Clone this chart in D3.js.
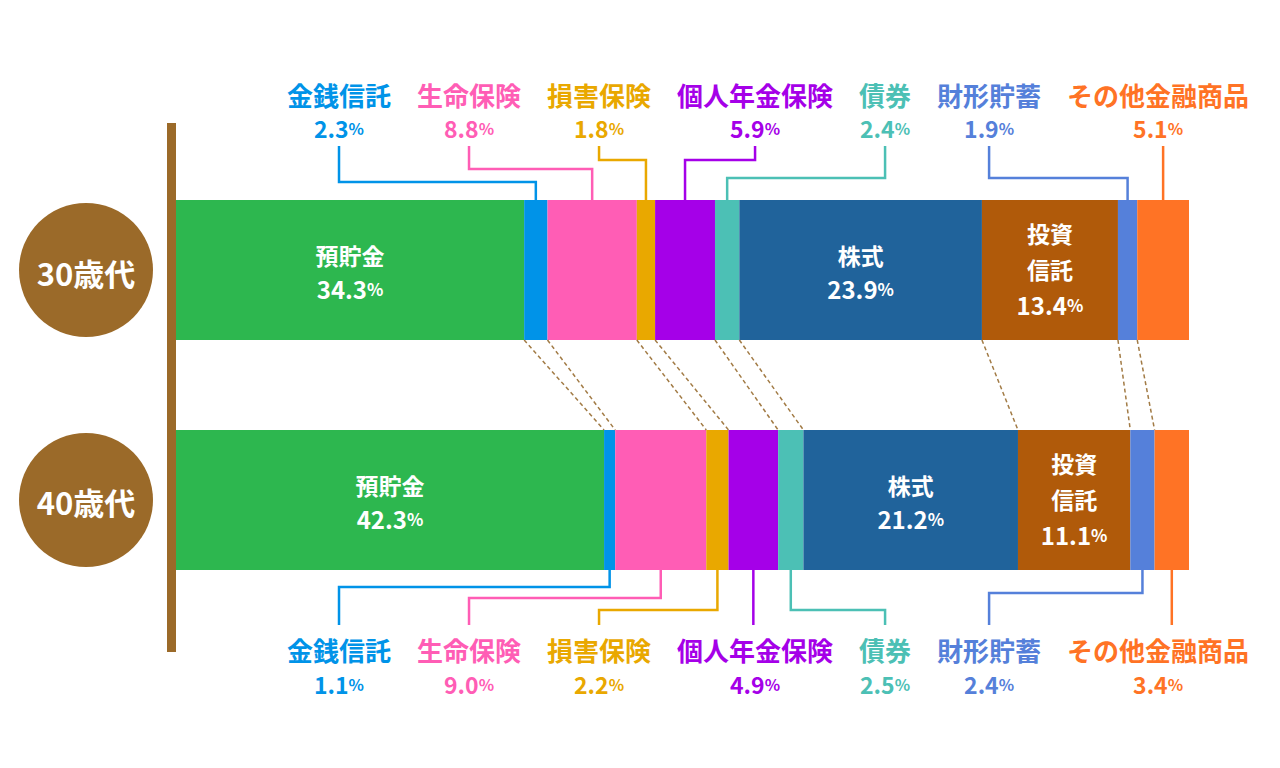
<!DOCTYPE html>
<html>
<head>
<meta charset="utf-8">
<script src="https://cdn.jsdelivr.net/npm/d3@7"></script>
<style>
body { margin: 0; background: #fff; }
text { font-family: "Noto Sans CJK JP", "Noto Sans", sans-serif; font-weight: 700; }
</style>
</head>
<body>
<div id="canvas"></div>
<script>
var ages = ["30歳代", "40歳代"];
var categories = ["預貯金", "金銭信託", "生命保険", "損害保険", "個人年金保険", "債券", "株式", "投資信託", "財形貯蓄", "その他金融商品"];
var values30 = [34.3, 2.3, 8.8, 1.8, 5.9, 2.4, 23.9, 13.4, 1.9, 5.1];
var values40 = [42.3, 1.1, 9.0, 2.2, 4.9, 2.5, 21.2, 11.1, 2.4, 3.4];
var colors = ["#2db74f", "#0093e8", "#ff5db5", "#e9a800", "#a500e8", "#4cc0b5", "#20639b", "#b05a0a", "#5580da", "#ff7325"];

// names written inside the bar (with line breaks), the rest get callouts
var insideNames = { "預貯金": ["預貯金"], "株式": ["株式"], "投資信託": ["投資", "信託"] };

// elbow heights of the callout lines (layout only)
var topElbow = { "金銭信託": 182, "生命保険": 169, "損害保険": 160, "個人年金保険": 160, "債券": 178, "財形貯蓄": 178, "その他金融商品": 178 };
var bottomElbow = { "金銭信託": 587, "生命保険": 598, "損害保険": 610, "個人年金保険": 610, "債券": 610, "財形貯蓄": 593, "その他金融商品": 610 };

var brown = "#9b6a29";
var fmt = d3.format(".1f");

const svg = d3.select("#canvas")
  .append("svg")
    .attr("width", 1280)
    .attr("height", 768);

var rows = ages.map(function(a, i) {
  var vals = [values30, values40][i];
  var o = { age: a };
  categories.forEach(function(c, j) { o[c] = vals[j]; });
  return o;
});
var series = d3.stack().keys(categories)(rows);
var totals = rows.map(function(r) { return d3.sum(categories, function(c) { return r[c]; }); });
var xs = totals.map(function(t) { return d3.scaleLinear().domain([0, t]).range([176, 1189]); });
var y = d3.scaleBand().domain(ages).range([200, 570]).paddingInner(0.3913);
var bw = y.bandwidth();

// vertical brown rule
svg.append("rect")
  .attr("x", 167).attr("y", 123)
  .attr("width", 9).attr("height", 529)
  .attr("fill", brown);

// age circles
ages.forEach(function(a) {
  var cy = y(a) + bw / 2;
  svg.append("circle")
    .attr("cx", 86).attr("cy", cy).attr("r", 67)
    .attr("fill", brown);
  svg.append("text")
    .attr("x", 86).attr("y", cy + 2)
    .attr("text-anchor", "middle")
    .attr("dominant-baseline", "central")
    .attr("fill", "#fff")
    .attr("font-size", 31)
    .text(a);
});

// bars
series.forEach(function(s, j) {
  s.forEach(function(d, i) {
    var x = xs[i];
    svg.append("rect")
      .attr("x", x(d[0]))
      .attr("y", y(ages[i]))
      .attr("width", x(d[1]) - x(d[0]))
      .attr("height", bw)
      .attr("fill", colors[j]);
  });
});

// dashed connectors between segment boundaries
for (var j = 0; j < categories.length - 1; j++) {
  svg.append("line")
    .attr("x1", xs[0](series[j][0][1]))
    .attr("y1", y(ages[0]) + bw)
    .attr("x2", xs[1](series[j][1][1]))
    .attr("y2", y(ages[1]))
    .attr("stroke", "#a27b45")
    .attr("stroke-width", 1.5)
    .attr("stroke-dasharray", "4,3");
}

function valueText(g, v, x, yy, color, big, small) {
  var t = g.append("text")
    .attr("x", x).attr("y", yy)
    .attr("text-anchor", "middle")
    .attr("dominant-baseline", "central")
    .attr("fill", color);
  t.append("tspan").attr("font-size", big).text(fmt(v));
  t.append("tspan").attr("font-size", small).text("%");
  return t;
}

// labels inside bars
series.forEach(function(s, j) {
  var c = categories[j];
  if (!insideNames[c]) return;
  s.forEach(function(d, i) {
    var x = xs[i];
    var mx = x((d[0] + d[1]) / 2);
    var mid = y(ages[i]) + bw / 2;
    var lines = insideNames[c];
    var ys = lines.length === 1 ? [mid - 15] : [mid - 37, mid - 1];
    lines.forEach(function(l, k) {
      svg.append("text")
        .attr("x", mx).attr("y", ys[k])
        .attr("text-anchor", "middle")
        .attr("dominant-baseline", "central")
        .attr("fill", "#fff")
        .attr("font-size", 23)
        .text(l);
    });
    valueText(svg, d.data[c], mx, lines.length === 1 ? mid + 18 : mid + 34, "#fff", 24, 17);
  });
});

// callout labels above and below
var outer = categories.filter(function(c) { return !insideNames[c]; });
var nameSize = 26, gap = 26, cur = 287;
var labelX = {};
outer.forEach(function(c) {
  var tmp = svg.append("text").attr("font-size", nameSize).text(c);
  var w = tmp.node().getComputedTextLength();
  tmp.remove();
  labelX[c] = cur + w / 2;
  cur += w + gap;
});

outer.forEach(function(c) {
  var j = categories.indexOf(c);
  var col = colors[j];
  [0, 1].forEach(function(i) {
    var d = series[j][i];
    var sx = xs[i]((d[0] + d[1]) / 2);
    var lx = labelX[c];
    var top = i === 0;
    var nameY = top ? 94 : 649;
    var valY = top ? 128 : 684;
    svg.append("text")
      .attr("x", lx).attr("y", nameY)
      .attr("text-anchor", "middle")
      .attr("dominant-baseline", "central")
      .attr("fill", col)
      .attr("font-size", nameSize)
      .text(c);
    valueText(svg, d.data[c], lx, valY, col, 23, 16);

    var endY = top ? 146 : 625;
    var barY = top ? y(ages[0]) : y(ages[1]) + bw;
    var p = d3.path();
    if (Math.abs(lx - sx) < 18) {
      p.moveTo(sx, endY);
      p.lineTo(sx, barY);
    } else {
      var lvl = top ? topElbow[c] : bottomElbow[c];
      p.moveTo(lx, endY);
      p.lineTo(lx, lvl);
      p.lineTo(sx, lvl);
      p.lineTo(sx, barY);
    }
    svg.append("path")
      .attr("d", p.toString())
      .attr("fill", "none")
      .attr("stroke", col)
      .attr("stroke-width", 2.5);
  });
});
</script>
</body>
</html>
